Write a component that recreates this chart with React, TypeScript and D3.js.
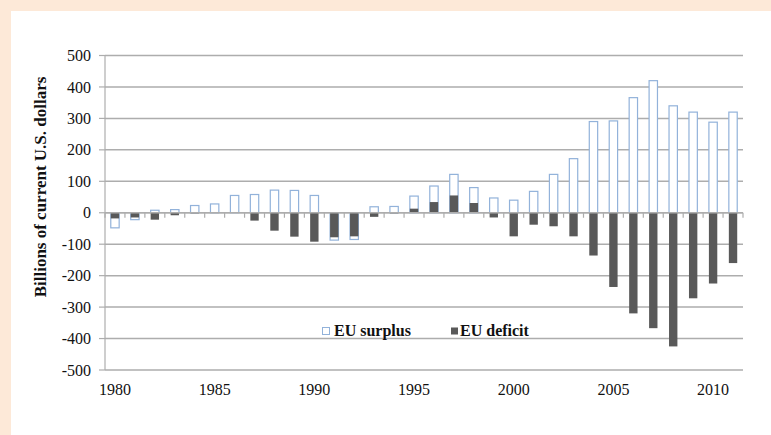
import React from "react";
import * as d3 from "d3";

const years: number[] = [
  1980, 1981, 1982, 1983, 1984, 1985, 1986, 1987, 1988, 1989, 1990, 1991, 1992, 1993, 1994, 1995,
  1996, 1997, 1998, 1999, 2000, 2001, 2002, 2003, 2004, 2005, 2006, 2007, 2008, 2009, 2010, 2011,
];
const surplus: number[] = [
  -48, -22, 8, 10, 23, 28, 55, 58, 72, 71, 55, -87, -85, 19, 20, 53,
  85, 122, 80, 47, 40, 68, 122, 172, 290, 292, 366, 420, 340, 320, 288, 320,
];
const deficit: number[] = [
  -18, -15, -22, -8, -2, -1, 0, -25, -57, -76, -92, -78, -75, -13, -2, 13,
  34, 55, 31, -15, -75, -38, -43, -75, -136, -236, -320, -367, -425, -272, -225, -160,
];
const yTicks: number[] = [500, 400, 300, 200, 100, 0, -100, -200, -300, -400, -500];
const xLabelYears: number[] = [1980, 1985, 1990, 1995, 2000, 2005, 2010];
const seriesNames: string[] = ["EU surplus", "EU deficit"];

const W = 771;
const H = 435;
const left = 105;
const right = 743;
const top = 55.5;
const bottom = 370;

export default function App() {
  const x = d3
    .scaleBand<number>()
    .domain(years)
    .range([left, right])
    .paddingInner(0.58)
    .paddingOuter(0.29);
  const y = d3.scaleLinear().domain([-500, 500]).range([bottom, top]);
  const step = x.step();
  const y0 = y(0);
  const font = "'Liberation Serif', 'Times New Roman', serif";
  const gridColor = "#adadad";
  const outline = "#92b2da";
  const dark = "#595959";

  return (
    <svg
      width={W}
      height={H}
      style={{ position: "absolute", left: 0, top: 0, display: "block" }}
      fontFamily={font}
    >
      <rect x={0} y={0} width={W} height={H} fill="#fde9d8" />
      <rect x={11} y={11} width={W - 11} height={H - 11} fill="#ffffff" />

      {/* gridlines */}
      {yTicks.map((t) => (
        <line
          key={"g" + t}
          x1={left}
          x2={right}
          y1={y(t)}
          y2={y(t)}
          stroke={gridColor}
          strokeWidth={1.5}
        />
      ))}
      {/* y axis */}
      <line x1={left} x2={left} y1={top} y2={bottom} stroke={gridColor} strokeWidth={1.2} />
      {yTicks.map((t) => (
        <g key={"yt" + t}>
          <line x1={left - 6} x2={left} y1={y(t)} y2={y(t)} stroke={gridColor} strokeWidth={1.2} />
          <text x={91} y={y(t)} dy="0.35em" textAnchor="end" fontSize={16} fill="#111">
            {t}
          </text>
        </g>
      ))}

      {/* bars */}
      {years.map((yr, i) => {
        const v = surplus[i];
        return (
          <rect
            key={"s" + yr}
            x={x(yr)!}
            y={Math.min(y(v), y0)}
            width={x.bandwidth()}
            height={Math.abs(y(v) - y0)}
            fill="#ffffff"
            stroke={outline}
            strokeWidth={1.2}
          />
        );
      })}
      {years.map((yr, i) => {
        const v = deficit[i];
        return (
          <rect
            key={"d" + yr}
            x={x(yr)!}
            y={Math.min(y(v), y0)}
            width={x.bandwidth()}
            height={Math.abs(y(v) - y0)}
            fill={dark}
          />
        );
      })}

      {/* zero axis with category ticks */}
      <line x1={left} x2={right} y1={y0} y2={y0} stroke={gridColor} strokeWidth={1.5} />
      {d3.range(years.length + 1).map((i) => (
        <line
          key={"xt" + i}
          x1={left + i * step}
          x2={left + i * step}
          y1={y0}
          y2={y0 + 5}
          stroke={gridColor}
          strokeWidth={1.2}
        />
      ))}

      {/* x labels */}
      {xLabelYears.map((yr) => (
        <text
          key={"xl" + yr}
          x={x(yr)! + x.bandwidth() / 2}
          y={395}
          textAnchor="middle"
          fontSize={16}
          fill="#111"
        >
          {yr}
        </text>
      ))}

      {/* y title */}
      <text
        transform={`translate(46, 187) rotate(-90)`}
        textAnchor="middle"
        fontSize={17}
        fontWeight="bold"
        fill="#111"
      >
        Billions of current U.S. dollars
      </text>

      {/* legend */}
      <rect x={322.5} y={327.5} width={7} height={7} fill="#ffffff" stroke={outline} strokeWidth={1} />
      <text x={334} y={336} fontSize={16} fontWeight="bold" fill="#111">
        {seriesNames[0]}
      </text>
      <rect x={451} y={327.5} width={7} height={7} fill={dark} />
      <text x={460} y={336} fontSize={16} fontWeight="bold" fill="#111">
        {seriesNames[1]}
      </text>
    </svg>
  );
}
